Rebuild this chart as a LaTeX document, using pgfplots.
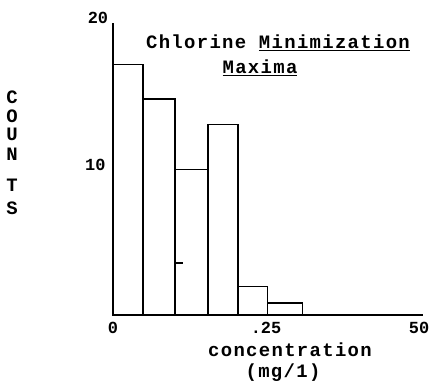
\documentclass[border=0pt]{standalone}
\usepackage{fontspec}
\setmainfont{Liberation Mono}
\usepackage{pgfplots}
\pgfplotsset{compat=1.18}
\newfontfamily\tw[LetterSpace=7]{Liberation Mono}
\newfontfamily\tws[LetterSpace=0]{Liberation Mono}
\begin{document}
\begin{tikzpicture}
\useasboundingbox (-113bp,-72bp) rectangle (326bp,315bp);
\begin{axis}[at={(0,0)}, anchor=south west, scale only axis,
  width=310bp, height=292bp,
  xmin=0, xmax=0.5065, ymin=0, ymax=19.47,
  axis lines=left, axis line style={line width=1.8pt, -},
  xtick={0,0.25,0.5}, xticklabels={0,.25,50}, ytick={10},
  major tick length=0pt,
  tick label style={font=\tws\bfseries\fontsize{17}{17}\selectfont},
  xticklabel style={yshift=-4bp},
  yticklabel style={xshift=-4bp},
  /pgf/number format/assume math mode=true,
  clip=false]
\addplot[ybar interval, draw=black, fill=none, line width=1.4pt]
  coordinates {(0,16.7)(0.049,14.4)(0.101,9.7)(0.155,12.7)(0.204,1.9)(0.252,0.8)(0.31,0.8)};
\addplot[draw=black, line width=1.2pt] coordinates {(0.101,3.47)(0.114,3.47)};
\end{axis}
\begin{scope}[every node/.style={inner sep=0pt, font=\tw\bfseries\fontsize{19}{19}\selectfont}]
\node[font=\tws\bfseries\fontsize{17}{17}\selectfont] at (-15bp,297bp) {20};
\node at (165bp,272bp) {Chlorine \underline{Minimization}};
\node at (147bp,247bp) {\underline{Maxima}};
\node at (177bp,-35bp) {concentration};
\node at (170bp,-58bp) {(mg/1)};
\node at (-101bp,218bp) {C};
\node at (-101bp,199bp) {O};
\node at (-101bp,181bp) {U};
\node at (-101bp,161bp) {N};
\node at (-101bp,130bp) {T};
\node at (-101bp,107bp) {S};
\end{scope}
\end{tikzpicture}
\end{document}
